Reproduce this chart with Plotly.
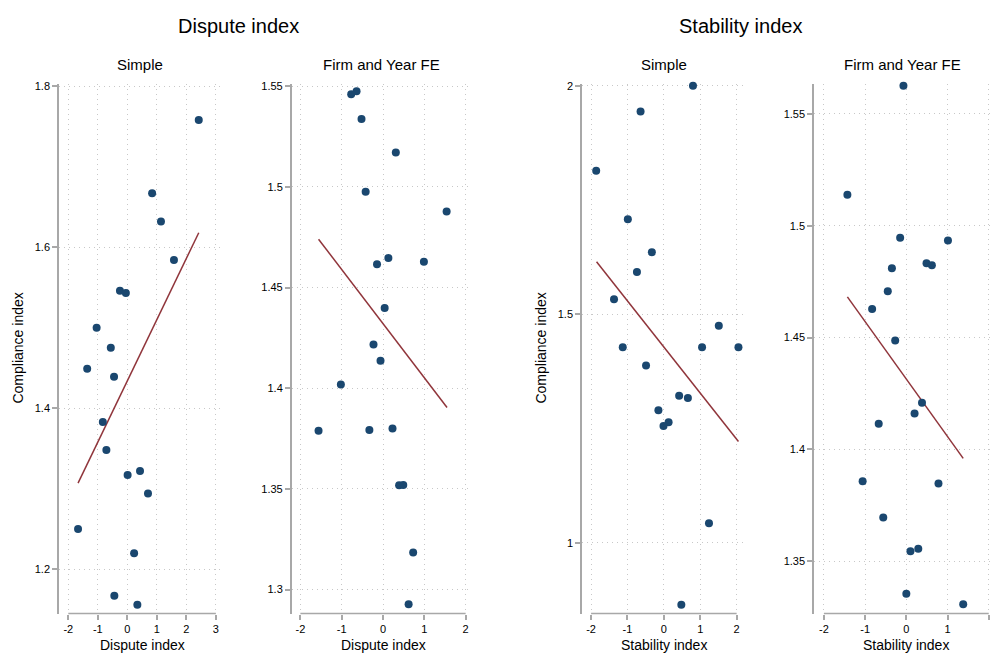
import plotly.graph_objects as go

# ---------------- data ----------------
# Panel 1: Dispute index, Simple
d_simple_x = [2.42, 0.84, 1.14, 1.58, -0.25, -0.05, -1.04, -0.56, -1.36, -0.45,
              -0.83, -0.71, 0.01, 0.43, 0.70, -1.67, 0.23, -0.44, 0.34]
d_simple_y = [1.758, 1.667, 1.632, 1.584, 1.546, 1.543, 1.500, 1.475, 1.449, 1.439,
              1.383, 1.348, 1.317, 1.322, 1.294, 1.250, 1.220, 1.167, 1.156]
d_simple_fit_x = [-1.67, 2.42]
d_simple_fit_y = [1.307, 1.618]

# Panel 2: Dispute index, Firm and Year FE
d_fe_x = [-0.77, -0.64, -0.52, 0.31, -0.42, 1.54, -0.145, 0.13, 0.99, 0.04,
          -0.23, -0.06, -1.02, -1.56, -0.33, 0.23, 0.39, 0.49, 0.73, 0.62]
d_fe_y = [1.546, 1.5475, 1.5337, 1.517, 1.4975, 1.4878, 1.4615, 1.4646, 1.4628, 1.4398,
          1.4217, 1.4136, 1.4018, 1.3789, 1.3792, 1.380, 1.3518, 1.3519, 1.3184, 1.2927]
d_fe_fit_x = [-1.56, 1.55]
d_fe_fit_y = [1.474, 1.3904]

# Panel 3: Stability index, Simple
s_simple_x = [0.80, -0.64, -1.86, -0.99, -0.33, -0.74, -1.37, 1.51, -1.13, 1.05,
              2.05, -0.49, 0.42, 0.66, -0.15, 0.13, -0.01, 1.24, 0.48]
s_simple_y = [2.0, 1.944, 1.814, 1.708, 1.636, 1.593, 1.533, 1.475, 1.428, 1.428,
              1.428, 1.388, 1.322, 1.317, 1.2904, 1.264, 1.256, 1.043, 0.865]
s_simple_fit_x = [-1.85, 2.05]
s_simple_fit_y = [1.615, 1.222]

# Panel 4: Stability index, Firm and Year FE
s_fe_x = [-0.07, -1.43, -0.15, 1.01, 0.49, 0.62, -0.35, -0.45, -0.83, -0.27,
          0.38, 0.20, -0.67, -1.06, 0.78, -0.56, 0.10, 0.29, 0.00, 1.38]
s_fe_y = [1.5626, 1.5139, 1.4946, 1.4934, 1.4832, 1.4823, 1.481, 1.4707, 1.4628, 1.4487,
          1.4208, 1.4161, 1.4115, 1.3857, 1.3848, 1.3696, 1.3544, 1.3556, 1.3355, 1.3308]
s_fe_fit_x = [-1.43, 1.38]
s_fe_fit_y = [1.4682, 1.396]

# tick values / labels
x_ticks_p1 = [-2, -1, 0, 1, 2, 3]
x_labels_p1 = ["-2", "-1", "0", "1", "2", "3"]
x_ticks_std = [-2, -1, 0, 1, 2]
x_labels_std = ["-2", "-1", "0", "1", "2"]
y_ticks_p1 = [1.2, 1.4, 1.6, 1.8]
y_ticks_p2 = [1.3, 1.35, 1.4, 1.45, 1.5, 1.55]
y_ticks_p3 = [1, 1.5, 2]
y_ticks_p4 = [1.35, 1.4, 1.45, 1.5, 1.55]

group_titles = ["Dispute index", "Stability index"]
panel_titles = ["Simple", "Firm and Year FE", "Simple", "Firm and Year FE"]
x_titles = ["Dispute index", "Dispute index", "Stability index", "Stability index"]
y_title = "Compliance index"

# ---------------- style ----------------
W, H = 990, 653
FONT = "Liberation Sans, Arial, sans-serif"
MARKER = "#1a476f"
FITCOL = "#90353b"
AXCOL = "#a8a8a8"
GRIDCOL = "#c8c8c8"

top_px, bot_px = 80, 613.3
ydom = [1 - bot_px / H, 1 - top_px / H]

panels = [
    dict(x=d_simple_x, y=d_simple_y, fx=d_simple_fit_x, fy=d_simple_fit_y,
         dom=(59, 220), xr=[-2.315, 3.14], yr=[1.145, 1.8033],
         xt=x_ticks_p1, xl=x_labels_p1, yt=y_ticks_p1),
    dict(x=d_fe_x, y=d_fe_y, fx=d_fe_fit_x, fy=d_fe_fit_y,
         dom=(291.7, 471), xr=[-2.21, 2.13], yr=[1.2881, 1.5513],
         xt=x_ticks_std, xl=x_labels_std, yt=y_ticks_p2),
    dict(x=s_simple_x, y=s_simple_y, fx=s_simple_fit_x, fy=s_simple_fit_y,
         dom=(582, 745), xr=[-2.25, 2.23], yr=[0.8457, 2.005],
         xt=x_ticks_std, xl=x_labels_std, yt=y_ticks_p3),
    dict(x=s_fe_x, y=s_fe_y, fx=s_fe_fit_x, fy=s_fe_fit_y,
         dom=(814, 990), xr=[-2.24, 2.03], yr=[1.3266, 1.5636],
         xt=x_ticks_std, xl=x_labels_std, yt=y_ticks_p4),
]

fig = go.Figure()
layout = dict(
    width=W, height=H,
    margin=dict(l=0, r=0, t=0, b=0),
    paper_bgcolor="white", plot_bgcolor="white",
    showlegend=False,
    font=dict(family=FONT, color="#000000", size=11),
)
shapes = []
annotations = []

for i, p in enumerate(panels):
    n = "" if i == 0 else str(i + 1)
    xa, ya = "x" + n, "y" + n
    fig.add_trace(go.Scatter(x=p["fx"], y=p["fy"], mode="lines",
                             line=dict(color=FITCOL, width=1.5),
                             xaxis=xa, yaxis=ya, hoverinfo="skip"))
    fig.add_trace(go.Scatter(x=p["x"], y=p["y"], mode="markers",
                             marker=dict(color=MARKER, size=8),
                             cliponaxis=False, xaxis=xa, yaxis=ya))
    layout["xaxis" + n] = dict(
        domain=[p["dom"][0] / W, p["dom"][1] / W], range=p["xr"], anchor=ya,
        tickvals=p["xt"], ticktext=p["xl"], ticks="outside", ticklen=5,
        tickcolor=AXCOL, tickwidth=1.5, showline=False, zeroline=False,
        showgrid=True, gridcolor=GRIDCOL, griddash="1px,4px", gridwidth=1,
        tickfont=dict(size=11, family=FONT, color="#000"),
    )
    layout["yaxis" + n] = dict(
        domain=ydom, range=p["yr"], anchor=xa,
        tickvals=p["yt"], ticks="outside", ticklen=5,
        tickcolor=AXCOL, tickwidth=1.5, showline=True, linecolor=AXCOL,
        linewidth=1.5, zeroline=False,
        showgrid=True, gridcolor=GRIDCOL, griddash="1px,4px", gridwidth=1,
        tickfont=dict(size=11, family=FONT, color="#000"),
    )
    # x axis line spanning first to last tick (Stata style)
    shapes.append(dict(type="line", xref=xa, yref=ya + " domain",
                       x0=p["xt"][0], x1=p["xt"][-1], y0=0, y1=0,
                       line=dict(color=AXCOL, width=1.5)))
    cx = (p["dom"][0] + p["dom"][1]) / 2 / W
    # panel subtitle
    annotations.append(dict(text=panel_titles[i], xref="paper", yref="paper",
                            x=cx, y=1 - 61 / H, showarrow=False,
                            font=dict(size=15, family=FONT, color="#000"),
                            xanchor="center", yanchor="middle"))
    # x title
    xc_px = (p["xt"][0] - p["xr"][0]) / (p["xr"][1] - p["xr"][0])
    xc2 = (p["xt"][-1] - p["xr"][0]) / (p["xr"][1] - p["xr"][0])
    mid = p["dom"][0] + (xc_px + xc2) / 2 * (p["dom"][1] - p["dom"][0])
    annotations.append(dict(text=x_titles[i], xref="paper", yref="paper",
                            x=mid / W, y=1 - 645 / H, showarrow=False,
                            font=dict(size=14, family=FONT, color="#000"),
                            xanchor="center", yanchor="middle"))

# y titles for the "Simple" panels
for px in (18, 541):
    annotations.append(dict(text=y_title, xref="paper", yref="paper",
                            x=px / W, y=(ydom[0] + ydom[1]) / 2, textangle=-90,
                            showarrow=False,
                            font=dict(size=14, family=FONT, color="#000"),
                            xanchor="center", yanchor="middle"))

# group titles
for t, px in zip(group_titles, (238, 740)):
    annotations.append(dict(text=t, xref="paper", yref="paper",
                            x=px / W, y=1 - 22 / H, showarrow=False,
                            font=dict(size=20, family=FONT, color="#000"),
                            xanchor="center", yanchor="middle"))

layout["shapes"] = shapes
layout["annotations"] = annotations
fig.update_layout(**layout)
fig.write_html(
    "out.html",
    config={"displayModeBar": False},
    post_script="document.body.style.margin='0';document.body.style.padding='0';"
                "document.documentElement.style.overflow='hidden';",
)
